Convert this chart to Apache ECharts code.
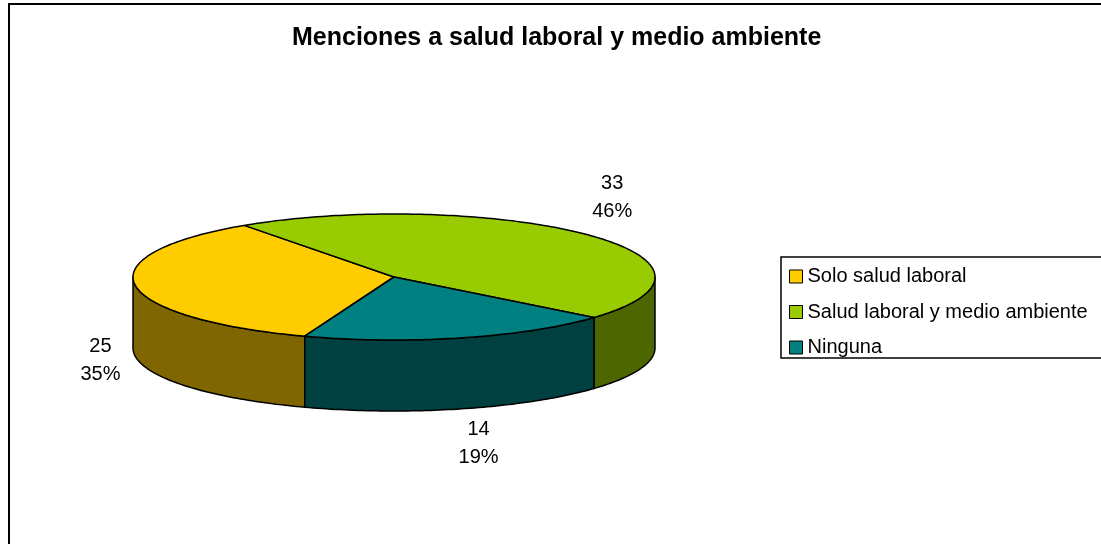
<!DOCTYPE html>
<html>
<head>
<meta charset="utf-8">
<script src="https://cdn.jsdelivr.net/npm/echarts@6/dist/echarts.min.js"></script>
<style>
  html, body { margin: 0; padding: 0; background: #fff; }
  #main { width: 1101px; height: 544px; }
</style>
</head>
<body>
<div id="main"></div>
<script>
var categories = ['Solo salud laboral', 'Salud laboral y medio ambiente', 'Ninguna'];
var values = [25, 33, 14];
var topColors = ['#FFCC00', '#99CC00', '#008080'];
var sideColors = ['#806600', '#4D6600', '#004040'];

var total = values.reduce(function (a, b) { return a + b; }, 0);
var FONT = 'Liberation Sans, Arial, Helvetica, sans-serif';

// pie geometry (flattened ellipse + wall depth), angles clockwise from 12 o'clock
var startAngle = 200;
var cx = 394, cy = 277, rx = 261, ry = 63, depth = 71;

function pt(deg, dy) {
  var r = deg * Math.PI / 180;
  return [cx + rx * Math.sin(r), cy - ry * Math.cos(r) + (dy || 0)];
}

function arc(a0, a1, dy) {
  var pts = [];
  for (var a = a0; a < a1; a += 1) pts.push(pt(a, dy));
  pts.push(pt(a1, dy));
  return pts;
}

function makeRender(idx) {
  return function (params, api) {
    var before = 0;
    for (var k = 0; k < idx; k++) before += values[k];
    var v = api.value(0);
    var a0 = startAngle + before / total * 360;
    var a1 = a0 + v / total * 360;
    var children = [];

    // outer wall, only the part facing the viewer (90..270 deg)
    for (var n = -1; n <= 2; n++) {
      var s = Math.max(a0, 90 + 360 * n);
      var e = Math.min(a1, 270 + 360 * n);
      if (e > s) {
        var wall = arc(s, e, 0).concat(arc(s, e, depth).reverse());
        children.push({
          type: 'polygon',
          shape: { points: wall },
          style: { fill: sideColors[idx], stroke: '#000', lineWidth: 1.5, lineJoin: 'round' }
        });
      }
    }

    // top face
    var top = [[cx, cy]].concat(arc(a0, a1, 0));
    children.push({
      type: 'polygon',
      shape: { points: top },
      style: { fill: api.visual('color'), stroke: '#000', lineWidth: 1.5, lineJoin: 'round' }
    });

    // label outside the slice, pushed below the wall for front slices
    var mid = ((a0 + a1) / 2) * Math.PI / 180;
    var sn = Math.sin(mid), cs = Math.cos(mid);
    var front = cs < 0;
    var lx = cx + 296 * sn + 34 * sn * Math.pow(Math.max(0, -cs), 3);
    var ly = 265 - 100 * cs + (front ? 82 : 0);
    children.push({
      type: 'text',
      x: lx,
      y: ly,
      style: {
        text: v + '\n' + Math.round(v / total * 100) + '%',
        fill: '#000',
        fontSize: 20,
        fontFamily: FONT,
        lineHeight: 28,
        align: 'center',
        verticalAlign: 'middle'
      }
    });

    return { type: 'group', children: children };
  };
}

var chart = echarts.init(document.getElementById('main'));

var series = categories.map(function (name, i) {
  return {
    type: 'custom',
    name: name,
    coordinateSystem: 'none',
    silent: true,
    itemStyle: { color: topColors[i] },
    renderItem: makeRender(i),
    data: [[values[i]]]
  };
});

var option = {
  backgroundColor: '#fff',
  animation: false,
  title: {
    text: 'Menciones a salud laboral y medio ambiente',
    left: 292,
    top: 26,
    padding: 0,
    textStyle: { fontSize: 25, fontWeight: 'bold', fontFamily: FONT, color: '#000' }
  },
  legend: {
    orient: 'vertical',
    left: 781,
    top: 257,
    data: categories,
    icon: 'rect',
    itemWidth: 13,
    itemHeight: 13,
    itemGap: 14.5,
    padding: [9, 40, 0, 8],
    borderColor: '#000',
    borderWidth: 1.5,
    selectedMode: false,
    itemStyle: { borderColor: '#000', borderWidth: 1 },
    textStyle: { fontSize: 20, lineHeight: 21, fontFamily: FONT, color: '#000' }
  },
  graphic: [{
    type: 'rect',
    shape: { x: 9, y: 4, width: 1200, height: 700 },
    style: { fill: 'none', stroke: '#000', lineWidth: 2 },
    silent: true
  }],
  series: series
};

chart.setOption(option);
</script>
</body>
</html>
